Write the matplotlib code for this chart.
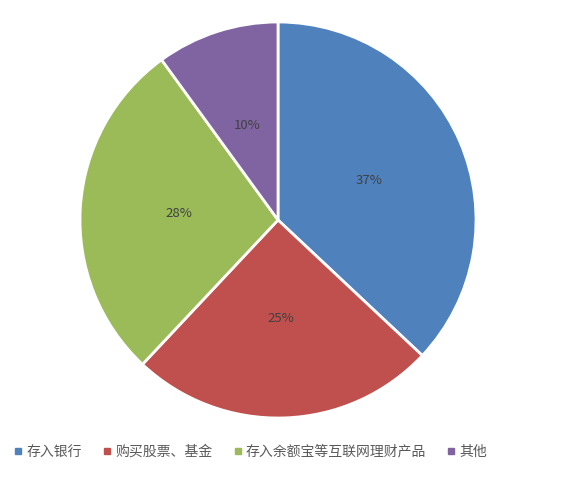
import matplotlib.pyplot as plt
from matplotlib.lines import Line2D

plt.rcParams['font.family'] = ['Noto Sans CJK SC', 'DejaVu Sans']

# data
labels = ['存入银行', '购买股票、基金', '存入余额宝等互联网理财产品', '其他']
shares = [37, 25, 28, 10]
colors = ['#4F81BD', '#C0504D', '#9BBB59', '#8064A2']

fig = plt.figure(figsize=(5.86, 4.78), dpi=100)
ax = fig.add_axes([0.1365, 0.1255, 0.6758, 0.8285])

wedges, texts, autotexts = ax.pie(
    shares, colors=colors, startangle=90, counterclock=False,
    autopct='%d%%', pctdistance=0.5,
    wedgeprops=dict(edgecolor='white', linewidth=2),
    textprops=dict(color='#404040', fontsize=9.5))
ax.set_xlim(-1.0, 1.0)
ax.set_ylim(-1.0, 1.0)
ax.set_aspect('equal')

# legend with small square markers
handles = [Line2D([], [], marker='s', linestyle='none', markersize=4,
                  markerfacecolor=c, markeredgecolor=c) for c in colors]
fig.legend(handles, labels, loc='center', bbox_to_anchor=(0.428, 0.055),
           ncol=4, frameon=False, fontsize=10, handlelength=0.6,
           handletextpad=0.3, columnspacing=1.5, labelcolor='#595959')

fig.savefig('out.png', dpi=100)
